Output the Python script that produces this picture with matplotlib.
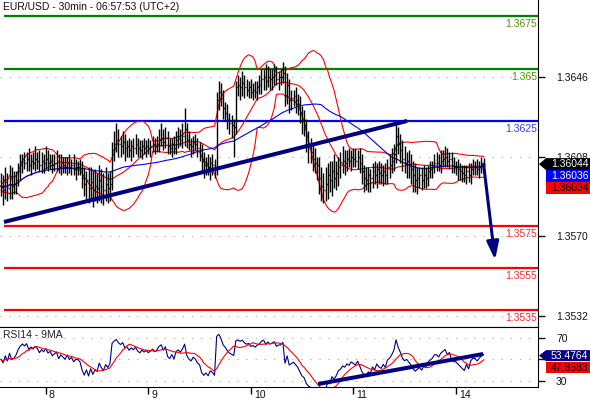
import numpy as np
import pandas as pd
import matplotlib
matplotlib.use("Agg")
import matplotlib.pyplot as plt
from matplotlib.patches import Polygon
from matplotlib import transforms

plt.rcParams['font.family'] = ['Liberation Sans', 'DejaVu Sans']
plt.rcParams['font.size'] = 7.5

title = "EUR/USD - 30min - 06:57:53 (UTC+2)"
rsi_title = "RSI14 - 9MA"

# 30min closes
closes = [
    1.3594, 1.3592, 1.3596, 1.3593, 1.3598, 1.3594, 1.3595, 1.3597,
    1.3601, 1.3604, 1.3606,
    1.3605, 1.3607, 1.3604, 1.3606, 1.3605, 1.3607,
    1.3606, 1.3604, 1.3606, 1.3605, 1.3607, 1.3605, 1.3606,
    1.3604, 1.3605, 1.3606, 1.3603, 1.3605,
    1.3604, 1.3603, 1.3605, 1.3603, 1.3604, 1.3602, 1.3603, 1.3603, 1.3602,
    1.3598, 1.3595, 1.3597,
    1.3593, 1.3596, 1.3592, 1.3594, 1.3593, 1.3597, 1.3594, 1.3592, 1.3595, 1.3593, 1.3595,
    1.3611,
    1.3614, 1.3616, 1.3614, 1.3613, 1.3615, 1.3612,
    1.3613, 1.3611, 1.3613, 1.3612, 1.3614, 1.3612, 1.3611, 1.3613, 1.3612, 1.3613, 1.3612, 1.3613,
    1.3614, 1.3613, 1.3614,
    1.3616, 1.3617, 1.3615, 1.3617,
    1.3613, 1.3612, 1.3614, 1.3612,
    1.3616, 1.3617, 1.3616, 1.3618, 1.3621,
    1.3616, 1.3614, 1.3613,
    1.3615, 1.3614, 1.3612, 1.3611,
    1.3606, 1.3604, 1.3605, 1.3603, 1.3605, 1.3604,
    1.3602,
    1.3635, 1.3639, 1.3636,
    1.3631, 1.3629, 1.3626,
    1.3624, 1.3623, 1.3622,
    1.3641,
    1.3642, 1.3641, 1.3643, 1.3641,
    1.3640, 1.3641, 1.3639, 1.3640, 1.3639, 1.3641, 1.3642,
    1.3645, 1.3646, 1.3644, 1.3646, 1.3645,
    1.3646, 1.3647, 1.3645, 1.3646, 1.3646, 1.3648,
    1.3637, 1.3642, 1.3635,
    1.3636, 1.3637, 1.3635, 1.3633,
    1.3629, 1.3625, 1.3623,
    1.3616, 1.3612, 1.3610,
    1.3607, 1.3605, 1.3604,
    1.3598, 1.3594, 1.3592, 1.3595,
    1.3599, 1.3597, 1.3601, 1.3598, 1.3600,
    1.3603, 1.3604, 1.3606, 1.3605,
    1.3607, 1.3606, 1.3608, 1.3607, 1.3606, 1.3608, 1.3605,
    1.3601, 1.3598, 1.3597, 1.3599, 1.3598,
    1.3601, 1.3599, 1.3602, 1.3600, 1.3599, 1.3601, 1.3599,
    1.3603, 1.3604, 1.3606, 1.3609,
    1.3618,
    1.3614, 1.3611,
    1.3607, 1.3605, 1.3606, 1.3604,
    1.3602, 1.3599, 1.3597, 1.3598, 1.3599,
    1.3597, 1.3599, 1.3598, 1.3601, 1.3602,
    1.3603, 1.3605, 1.3605, 1.3604, 1.3606,
    1.3607, 1.3608, 1.3606, 1.3607,
    1.3604, 1.3603, 1.3603, 1.3602, 1.3601,
    1.3600, 1.3599, 1.3601, 1.3599, 1.3602,
    1.3603, 1.3603, 1.3602, 1.3603, 1.3604, 1.36044,
]

# wicks in pips above max(open, close) / below min(open, close)
up_wick = [
    6, 5, 7, 4, 6, 5, 6, 4,  4, 5, 3,  4, 3, 5, 3, 4, 6,  3, 5, 4, 3, 6, 4, 3,
    3, 4, 5, 3, 4,  3, 4, 3, 4, 3, 5, 4, 3, 4,  4, 5, 4,
    6, 7, 5, 8, 6, 7, 5, 6, 8, 5, 6,  4,  6, 8, 5, 4, 5, 4,
    3, 4, 3, 4, 5, 3, 4, 3, 4, 3, 4, 3,  4, 3, 4,  5, 7, 4, 5,  3, 4, 3, 4,
    4, 5, 4, 6, 10,  3, 4, 3,  3, 4, 3, 3,  3, 4, 3, 4, 3, 4,  3,  4, 5, 4,
    4, 3, 4,  3, 4, 3,  3,  5, 4, 6, 4,  4, 3, 4, 3, 4, 3, 5,  5, 4, 6, 5, 4,
    4, 5, 4, 3, 4, 5,  3, 6, 3,  4, 3, 4, 3,  4, 3, 5,  3, 4, 5,  4, 5, 3,
    4, 5, 6, 8,  6, 7, 5, 8, 6,  5, 6, 7, 5,  4, 5, 3, 4, 5, 3, 4,  4, 3, 5, 4, 3,
    4, 5, 3, 4, 5, 3, 4,  4, 5, 6, 5,  6,  4, 5,  5, 6, 4, 5,  5, 4, 6, 5, 4,
    4, 5, 4, 3, 4,  3, 4, 5, 4, 5,  4, 5, 4, 3,  3, 4, 3, 4, 3,  3, 4, 3, 4, 3,
    4, 3, 4, 3, 4, 3,
]
dn_wick = [
    5, 7, 4, 6, 5, 6, 4, 5,  3, 4, 4,  3, 4, 3, 5, 3, 4,  4, 3, 4, 5, 3, 4, 3,
    4, 3, 4, 3, 4,  4, 3, 4, 3, 4, 3, 5, 4, 3,  5, 6, 7,
    7, 6, 8, 5, 7, 6, 8, 7, 5, 7, 6,  3,  5, 4, 6, 5, 4, 6,
    4, 3, 5, 4, 3, 4, 3, 4, 3, 4, 3, 4,  3, 4, 3,  4, 3, 4, 3,  4, 3, 4, 3,
    3, 4, 3, 4, 5,  4, 3, 5,  4, 3, 4, 5,  5, 6, 5, 4, 6, 5,  4,  3, 5, 4,
    5, 4, 5,  5, 6, 14,  3,  4, 6, 4, 5,  3, 4, 3, 4, 3, 4, 3,  4, 5, 4, 3, 5,
    5, 4, 3, 5, 4, 3,  5, 4, 6,  5, 4, 6, 5,  5, 6, 5,  6, 7, 5,  6, 5, 7,
    8, 7, 6, 5,  7, 6, 8, 5, 6,  6, 5, 4, 6,  4, 3, 5, 4, 3, 4, 5,  6, 7, 5, 6, 7,
    5, 4, 6, 5, 4, 5, 4,  4, 5, 4, 5,  4,  5, 6,  6, 5, 7, 6,  7, 8, 6, 7, 5,
    5, 4, 5, 4, 3,  4, 3, 4, 3, 4,  3, 4, 3, 4,  4, 3, 4, 5, 4,  4, 3, 4, 3, 4,
    3, 4, 3, 4, 3, 2,
]

day_labels = ["8", "9", "10", "11", "14"]
day_start = [21, 69, 117, 165, 213]

level_values = [1.3675, 1.365, 1.3625, 1.3575, 1.3555, 1.3535]
level_labels = ["1.3675", "1.365", "1.3625", "1.3575", "1.3555", "1.3535"]
level_colors = ["#008000", "#008000", "#0000ff", "#ff0000", "#ff0000", "#ff0000"]
label_colors = ["#4d9900", "#4d9900", "#3a3aff", "#ff2a2a", "#ff2a2a", "#ff2a2a"]

price_ticks = [1.3646, 1.3608, 1.3570, 1.3532]
rsi_ticks = [30, 50, 70]
rsi_tick_labels = ["30", "", "70"]

trend_x, trend_y = [1.4, 190.2], [1.35768, 1.36250]
rsi_trend_x, rsi_trend_y = [148.5, 225.8], [26.9, 55.0]
arrow_x, arrow_y = [226, 231.4], [1.36044, 1.35587]

last_txt, ma_txt, bb_txt = "1.36044", "1.36036", "1.36034"
rsi_txt, rsi_ma_txt = "53.4764", "47.8583"

# indicators
s = pd.Series(closes)
idx = np.arange(len(s))
opens = s.shift(1).fillna(s.iloc[0])
highs = np.maximum(opens, s) + np.array(up_wick) * 1e-4
lows = np.minimum(opens, s) - np.array(dn_wick) * 1e-4

bb_mid = s.rolling(20, min_periods=1).mean()
bb_sd = s.rolling(20, min_periods=2).std(ddof=0).bfill()
bb_up = bb_mid + 2 * bb_sd
bb_lo = bb_mid - 2 * bb_sd
ma50 = s.rolling(50, min_periods=1).mean()

# Wilder RSI, seeded with a neutral average move so the first bars are usable
d = s.diff().fillna(0).to_numpy()
ag = al = np.abs(d).mean() / 2
rsi_vals = []
for chg in d:
    ag = (ag * 13 + max(chg, 0)) / 14
    al = (al * 13 + max(-chg, 0)) / 14
    rsi_vals.append(100 - 100 / (1 + ag / al))
rsi = pd.Series(rsi_vals)
rsi_ma = rsi.rolling(9, min_periods=1).mean()

W, H = 590, 400
fig = plt.figure(figsize=(W / 100, H / 100), dpi=100)
fig.patch.set_facecolor("white")
ax = fig.add_axes([0, 73 / H, 538 / W, 327 / H])
axr = fig.add_axes([0, 13 / H, 538 / W, 60 / H], sharex=ax)

x_lo, x_hi = -0.47, 251.5
ax.set_xlim(x_lo, x_hi)
ax.set_ylim(1.35267, 1.36827)
axr.set_ylim(24.1, 80.3)

for a in (ax, axr):
    a.spines["left"].set_visible(False)
    a.yaxis.tick_right()
    a.tick_params(axis="y", direction="out", length=5, width=1, pad=8,
                  labelsize=7.5, colors="#111111")
    a.grid(axis="y", color="#b4b4b4", linestyle=(0, (1.2, 7)), linewidth=0.8)
ax.spines["top"].set_visible(False)
ax.tick_params(axis="x", bottom=False, labelbottom=False)

ax.set_yticks(price_ticks)
ax.set_yticklabels([f"{v:.4f}" for v in price_ticks])
axr.set_yticks(rsi_ticks)
axr.set_yticklabels(rsi_tick_labels)
axr.set_xticks(day_start)
axr.tick_params(axis="x", direction="out", length=5, width=1, labelbottom=False)
xt = transforms.blended_transform_factory(axr.transData, axr.transAxes)
for pos, lab in zip(day_start, day_labels):
    axr.text(pos + 1.4, -0.13, lab, transform=xt, ha="left", va="center",
             fontsize=7.5, color="#111111")

# horizontal levels
for val, lab, c, lc in zip(level_values, level_labels, level_colors, label_colors):
    ax.hlines(val, 1.4, x_hi, color=c, linewidth=1.6, zorder=2)
    ax.annotate(lab, xy=(x_hi, val), xytext=(-0.5, -6), textcoords="offset points",
                ha="right", va="center", color=lc, fontsize=7.5)

# indicators
ax.plot(idx, bb_up, color="#ff0000", lw=0.8, zorder=3)
ax.plot(idx, bb_mid, color="#ff0000", lw=0.8, zorder=3)
ax.plot(idx, bb_lo, color="#ff0000", lw=0.8, zorder=3)
ax.plot(idx, ma50, color="#0000ff", lw=0.8, zorder=3)

# OHLC bars
ax.vlines(idx, lows, highs, color="black", lw=1.0, zorder=4)
ax.hlines(opens, idx - 0.45, idx, color="black", lw=1.0, zorder=4)
ax.hlines(s, idx, idx + 0.45, color="black", lw=1.0, zorder=4)

ax.plot(trend_x, trend_y, color="#000080", lw=2.9, solid_capstyle="butt", zorder=5)
ax.annotate("", xy=(arrow_x[1], arrow_y[1]), xytext=(arrow_x[0], arrow_y[0]),
            arrowprops=dict(arrowstyle="-|>,head_length=0.9,head_width=0.3",
                            color="#000080", lw=2.2, mutation_scale=12,
                            shrinkA=0, shrinkB=0), zorder=5)

fig.text(3 / W, 1 - 7 / H, title, ha="left", va="center", fontsize=7.5, color="#111111")

# RSI panel
axr.plot(idx, rsi, color="#000080", lw=0.8)
axr.plot(idx, rsi_ma, color="#ff0000", lw=0.8)
axr.plot(rsi_trend_x, rsi_trend_y, color="#000080", lw=2.9, solid_capstyle="butt")
axr.text(3 / 538, 1 - 8 / 60, rsi_title, transform=axr.transAxes, ha="left",
         va="center", fontsize=7.5, color="#222233")

fig.canvas.draw()


def value_box(yc, text, face, fg, pointer=False, h=12):
    x0, x1, tip = 546, 590, 539
    pts = [(x0, yc + h / 2), (x1, yc + h / 2), (x1, yc - h / 2), (x0, yc - h / 2)]
    if pointer:
        pts.append((tip, yc))
    pts = [(px / W, py / H) for px, py in pts]
    fig.add_artist(Polygon(pts, closed=True, transform=fig.transFigure,
                           facecolor=face, edgecolor="none", zorder=5))
    fig.text((x0 + x1) / 2 / W + 1.5 / W, yc / H, text, color=fg, ha="center",
             va="center", fontsize=7.5, zorder=6)


yc = ax.transData.transform((0, float(last_txt)))[1]
value_box(yc, last_txt, "black", "white", pointer=True)
value_box(yc - 12, ma_txt, "#0000ff", "white")
value_box(yc - 24, bb_txt, "#ff0000", "black")

yr = axr.transData.transform((0, float(rsi_txt)))[1]
value_box(yr, rsi_txt, "#000080", "white", pointer=True, h=11)
value_box(yr - 12, rsi_ma_txt, "#ff0000", "black", h=11)

fig.savefig("out.png", dpi=100)
